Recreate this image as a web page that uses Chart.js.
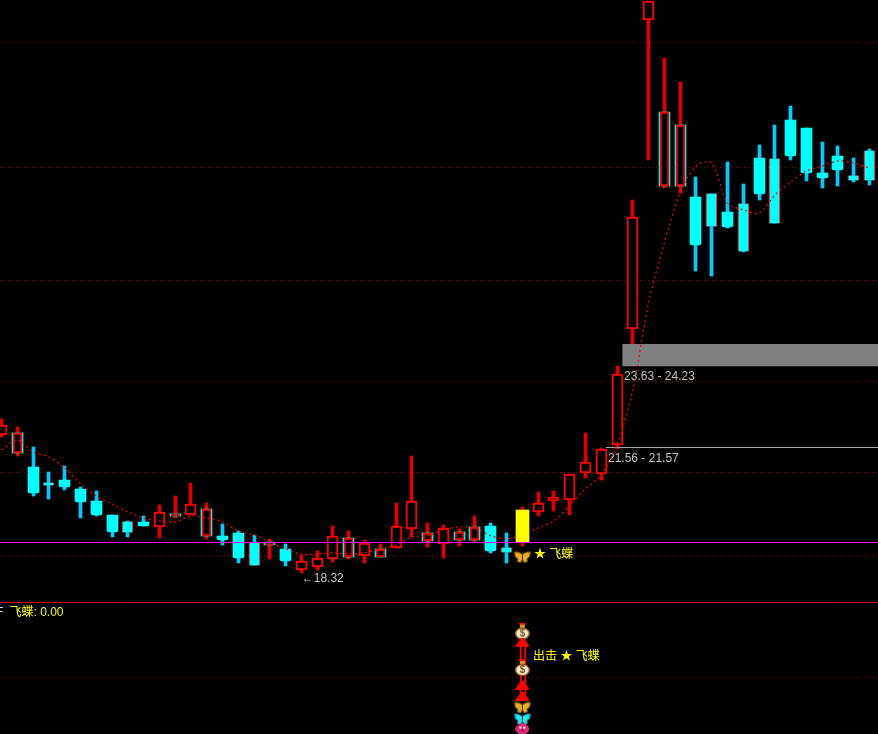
<!DOCTYPE html>
<html>
<head>
<meta charset="utf-8">
<style>html,body{margin:0;padding:0;background:#000;overflow:hidden}canvas{display:block}</style>
<script src="https://cdn.jsdelivr.net/npm/chart.js@4"></script>
</head>
<body>
<canvas id="c" width="878" height="734"></canvas>
<script>
const opens  = [21.87,21.40,21.04,20.63,20.71,20.48,20.17,19.81,19.63,19.63,19.50,19.78,19.81,19.27,19.27,19.34,19.09,19.03,18.93,18.39,18.47,18.67,18.72,18.75,18.72,18.96,19.45,19.14,19.06,19.16,19.16,19.52,18.96,19.11,19.88,20.17,20.19,20.89,20.86,21.61,24.59,32.56,28.29,28.29,28.00,28.08,27.62,27.82,29.01,28.98,29.99,29.78,28.62,29.06,28.54,29.19];
const closes = [22.13,21.92,20.37,20.58,20.53,20.14,19.81,19.37,19.37,19.52,19.88,19.83,20.09,19.96,19.16,18.70,18.52,19.11,18.62,18.62,18.70,19.27,19.21,19.09,18.93,19.52,20.17,19.34,19.47,19.37,19.50,18.88,18.85,19.94,20.12,20.27,20.86,21.17,21.51,23.44,27.49,33.05,30.19,29.86,26.77,27.26,27.23,26.61,28.08,27.33,29.06,28.62,28.49,28.70,28.44,28.44];
const highs  = [22.28,22.07,21.56,20.92,21.07,20.53,20.43,19.81,19.65,19.78,20.06,20.29,20.63,20.12,19.57,19.39,19.29,19.19,19.06,18.78,18.88,19.52,19.39,19.16,19.06,20.12,21.33,19.60,19.55,19.45,19.78,19.60,19.34,20.01,20.40,20.43,20.86,21.92,21.53,23.65,27.93,33.05,31.59,30.97,28.52,28.08,28.90,28.34,29.34,29.86,30.35,29.78,29.42,29.32,29.01,29.24];
const lows   = [21.82,21.33,20.29,20.22,20.45,19.73,19.78,19.24,19.24,19.52,19.21,19.73,19.81,19.19,19.03,18.57,18.52,18.67,18.49,18.30,18.39,18.60,18.67,18.57,18.72,18.96,19.24,18.98,18.70,19.01,19.11,18.83,18.57,19.01,19.78,19.91,19.81,20.76,20.71,21.51,24.06,28.96,28.23,28.11,26.10,25.97,27.20,26.59,27.93,27.33,28.96,28.41,28.23,28.29,28.39,28.31];
const avgLine = [21.48,21.74,21.43,21.30,21.02,20.61,20.29,20.09,19.88,19.73,19.65,19.63,19.78,19.73,19.63,19.39,19.29,19.11,18.93,18.80,18.80,18.83,18.80,18.83,18.93,19.03,19.24,19.27,19.42,19.50,19.47,19.27,19.19,19.29,19.47,19.65,20.06,20.48,20.84,21.61,23.03,25.27,26.82,28.11,28.80,28.88,27.85,27.67,27.59,28.05,28.39,28.67,28.80,28.93,28.88,28.75];
const rimmedCandles = [1,3,8,11,13,16,17,22,24,27,29,30,32,42,43,45,47,49,54,55];
const signalCandle = 33;
const gridLevels = [18.75,20.89,23.24,25.86,28.75,31.99];
const lowerGridLevels = [4.38];
const zeroLevel = 19.096, panelEdge = 17.55, supportLevel = 21.545;
const gapLow = 23.64, gapHigh = 24.21;
const iconLevels = [7.92,5.12,7.04,3.73,2.88,2.04,1.15,0.38];
const iconKinds  = ['bag','bag','up','up','up','gold','blue','flower'];
const stemRange = [2.88,7.04];
const mainIconLevel = 18.72;
const noteTexts  = ['←18.32','23.63 - 24.23','21.56 - 21.57','★ 飞蝶','出击 ★ 飞蝶','F','飞蝶: 0.00'];
const noteXs     = [19.02,39.45,38.43,33.74,33.68,-0.35,0.50];
const noteYs     = [18.17,23.38,21.26,18.78,5.94,9.32,9.32];
const noteAxes   = ['y','y','y','y','y2','y2','y2'];
const noteColors = ['#c0c0c0','#c0c0c0','#c0c0c0','#ffff00','#ffff00','#e0e0e0','#ffff00'];

const RED='#ff0000', WICK_RED='#e00000', CYAN='#00ffff', WICK_CYAN='#00ccff';
const XMIN=-0.1014, XMAX=55.54;
const idx=opens.map((_,i)=>i);
const isUp=i=>closes[i]>=opens[i];
const rim=i=>rimmedCandles.includes(i);
const pick=test=>idx.filter(i=>i!==signalCandle&&test(i)).map(i=>({x:i,y:[opens[i],closes[i]]}));

function icon(w,h,draw){const c=document.createElement('canvas');c.width=w;c.height=h;draw(c.getContext('2d'),w,h);return c;}
const bag=icon(15,17,g=>{
  g.fillStyle='#f00000';g.fillRect(4,0,7,2);
  g.fillStyle='#c89838';g.fillRect(5,2,5,3);
  g.fillStyle='#9a7020';g.beginPath();g.ellipse(7.5,11,7.5,6,0,0,7);g.fill();
  g.fillStyle='#fbf3d0';g.beginPath();g.ellipse(7.5,11,6,4.8,0,0,7);g.fill();
  g.fillStyle='#7a4a20';g.font='bold 10px "Liberation Sans"';g.textAlign='center';g.textBaseline='middle';g.fillText('$',7.5,11.5);
});
const up=icon(14,9,g=>{g.fillStyle='#ff0000';g.beginPath();g.moveTo(5.5,0);g.lineTo(8.5,0);g.lineTo(14,8);g.lineTo(13,9);g.lineTo(1,9);g.lineTo(0,8);g.closePath();g.fill();});
function wings(main,dark){return icon(17,12,g=>{
  g.fillStyle=main;g.strokeStyle=dark;g.lineWidth=1;
  g.beginPath();g.moveTo(8.5,3);g.lineTo(4,1);g.lineTo(0.5,1);g.lineTo(1.5,6);g.lineTo(4,7.5);g.lineTo(3.5,10.5);g.lineTo(6.5,11.5);g.lineTo(8.5,8.5);g.closePath();g.fill();g.stroke();
  g.beginPath();g.moveTo(8.5,3);g.lineTo(13,1);g.lineTo(16.5,1);g.lineTo(15.5,6);g.lineTo(13,7.5);g.lineTo(13.5,10.5);g.lineTo(10.5,11.5);g.lineTo(8.5,8.5);g.closePath();g.fill();g.stroke();
  g.strokeStyle='#402000';g.beginPath();g.moveTo(8.5,1);g.lineTo(8.5,10);g.stroke();
});}
const gold=wings('#e8b020','#7a5010'), blue=wings('#20e8f0','#107890');
const flower=icon(14,13,g=>{
  g.fillStyle='#d82878';g.fillRect(3,1,8,11);g.fillRect(1,3,12,7);g.fillRect(0,5,14,3);g.fillRect(6,0,2,13);
  g.fillStyle='#ffffff';g.fillRect(4,4,2,2);g.fillRect(8,4,2,2);
  g.fillStyle='#701030';g.fillRect(6,7,2,2);
});
const iconMap={bag,up,gold,blue,flower};

const hline=(label,value,color,from,order,extra)=>Object.assign({type:'line',label,order,
  data:[{x:from,y:value},{x:XMAX,y:value}],borderColor:color,borderWidth:1,pointRadius:0,tension:0},extra||{});
const body=(label,data,bg,bd,thick,order,extra)=>Object.assign({type:'bar',label,order,data,backgroundColor:bg,borderColor:bd,
  borderWidth:bd?2:0,borderSkipped:false,barThickness:thick,grouped:false},extra||{});
const soft={borderRadius:{topLeft:0,topRight:0,bottomLeft:2,bottomRight:2}};

const datasets=[
  body('wickRed',idx.filter(i=>isUp(i)).map(i=>({x:i,y:[lows[i],highs[i]]})),WICK_RED,null,3,40),
  body('wickCyan',idx.filter(i=>!isUp(i)).map(i=>({x:i,y:[lows[i],highs[i]]})),WICK_CYAN,null,3,39),
  body('rimCyan',pick(i=>isUp(i)&&rim(i)),CYAN,null,11,30),
  body('rimRed',pick(i=>!isUp(i)&&rim(i)),RED,null,11,29),
  body('upBody',pick(i=>isUp(i)&&!rim(i)),'#000',RED,11,20),
  body('upBodyRim',pick(i=>isUp(i)&&rim(i)),'#000',RED,9,19),
  body('downBody',pick(i=>!isUp(i)&&!rim(i)),CYAN,null,11,18,soft),
  body('downBodyRim',pick(i=>!isUp(i)&&rim(i)),CYAN,null,9,17),
  {type:'line',label:'gap',order:10,data:[{x:39.33,y:gapLow},{x:XMAX,y:gapLow}],borderWidth:0,pointRadius:0,backgroundColor:'#808080',fill:{value:gapHigh}},
  hline('support',supportLevel,'#a8a8a8',38.3,9),
  {type:'line',label:'avg',order:5,data:idx.map(i=>({x:i,y:avgLine[i]})),borderColor:'#ff0000',borderWidth:1.2,borderDash:[2,3],pointRadius:0,tension:0.3},
  body('signal',[{x:signalCandle,y:[opens[signalCandle],closes[signalCandle]]}],'#ffff00',null,13,4),
  hline('zero',zeroLevel,'#ff00ff',XMIN,3),
  hline('edge',panelEdge,'#d00000',XMIN,3),
  body('stem',[{x:signalCandle,y:stemRange}],'#000','#ff0000',6,3,{yAxisID:'y2',borderWidth:{left:2,right:2,top:0,bottom:0}}),
  {type:'line',label:'mainIcon',order:2,showLine:false,data:[{x:signalCandle,y:mainIconLevel}],pointStyle:gold,pointRadius:8},
  {type:'line',label:'icons',order:1,showLine:false,yAxisID:'y2',data:iconLevels.map(v=>({x:signalCandle,y:v})),pointStyle:iconKinds.map(k=>iconMap[k]),pointRadius:8}
];

const snapBars={id:'snapBars',beforeDatasetsDraw(ch){
  ch.getSortedVisibleDatasetMetas().filter(m=>m.type==='bar').forEach(m=>m.data.forEach(el=>{
    el.x=(Math.round(el.width)%2)?Math.floor(el.x)+0.5:Math.ceil(el.x);
    el.y=Math.round(el.y);el.base=Math.round(el.base);
  }));
}};
const notes={id:'notes',afterDatasetsDraw(ch){
  const g=ch.ctx;g.save();g.font='12px "Liberation Sans","Noto Sans CJK SC"';g.textAlign='left';g.textBaseline='middle';
  noteTexts.forEach((t,i)=>{g.fillStyle=noteColors[i];g.fillText(t,ch.scales.x.getPixelForValue(noteXs[i]),ch.scales[noteAxes[i]].getPixelForValue(noteYs[i]));});
  g.restore();
}};
const flat=(levels,min,max,extra)=>Object.assign({position:'left',min,max,
  afterBuildTicks:s=>{s.ticks=levels.map(value=>({value}));},
  ticks:{display:false},
  border:{display:false,dash:[1,3]},
  grid:{color:'#8c0000',lineWidth:1,drawTicks:false,tickLength:0}},extra||{});

new Chart(document.getElementById('c'),{
  data:{datasets},
  options:{
    responsive:false,animation:false,devicePixelRatio:1,
    layout:{padding:0,autoPadding:false},
    plugins:{legend:{display:false},tooltip:{enabled:false},title:{display:false}},
    scales:{
      x:{type:'linear',min:XMIN,max:XMAX,display:false,offset:false},
      y:flat(gridLevels,14.16,33.08),
      y2:flat(lowerGridLevels,0,56.46)
    }
  },
  plugins:[snapBars,notes]
});
</script>
</body>
</html>
